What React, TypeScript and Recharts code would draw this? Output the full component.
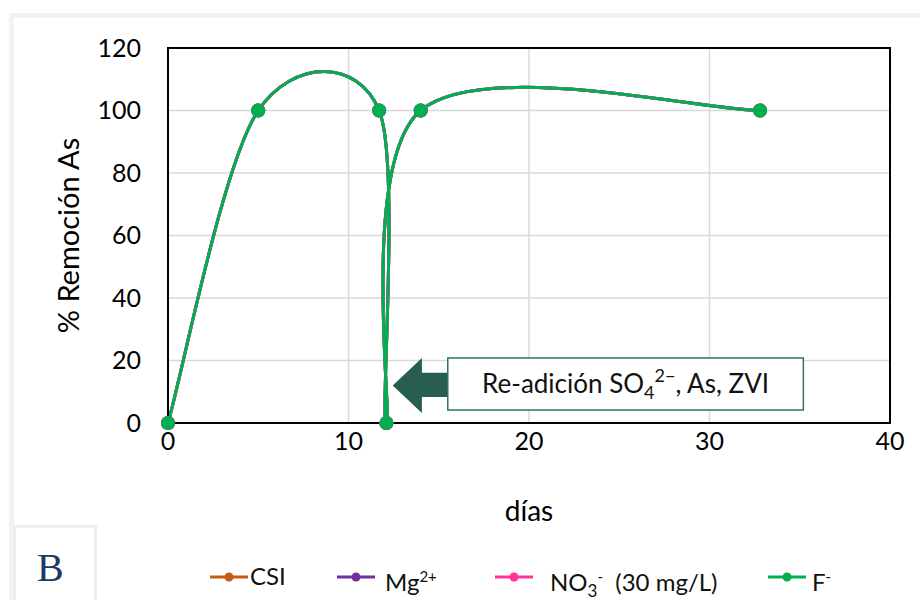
import React from 'react'
import { LineChart, Line, XAxis, YAxis, CartesianGrid, ReferenceArea } from 'recharts'

// días de muestreo y % de remoción de As (las cuatro series se superponen)
const days = [0, 5, 11.7, 12.1, 14, 32.8]
const csi = [0, 100, 100, 0, 100, 100]
const mg = [0, 100, 100, 0, 100, 100]
const no3 = [0, 100, 100, 0, 100, 100]
const fluor = [0, 100, 100, 0, 100, 100]

const xTicks = [0, 10, 20, 30, 40]
const yTicks = [0, 20, 40, 60, 80, 100, 120]

const data = days.map((d, i) => ({ day: d, csi: csi[i], mg: mg[i], no3: no3[i], f: fluor[i] }))

const FONT = 'Lato, "Open Sans", sans-serif'
const GREEN = '#00B050'

// suavizado tipo Excel (bezier con puntos de control a 1/6)
const excelCurve = (context: any) => {
	let pts: number[][] = []
	return {
		areaStart() {},
		areaEnd() {},
		lineStart() { pts = [] },
		point(x: number, y: number) { pts.push([+x, +y]) },
		lineEnd() {
			if (!pts.length) return
			context.moveTo(pts[0][0], pts[0][1])
			for (let i = 0; i < pts.length - 1; i++) {
				const p0 = pts[i - 1] || pts[i]
				const p1 = pts[i]
				const p2 = pts[i + 1]
				const p3 = pts[i + 2] || p2
				context.bezierCurveTo(
					p1[0] + (p2[0] - p0[0]) / 6, p1[1] + (p2[1] - p0[1]) / 6,
					p2[0] - (p3[0] - p1[0]) / 6, p2[1] - (p3[1] - p1[1]) / 6,
					p2[0], p2[1]
				)
			}
		},
	}
}

const YLabel = ({ viewBox }: any) => {
	const cx = viewBox.x + 67
	const cy = viewBox.y + viewBox.height / 2
	return (
		<text x={cx} y={cy} transform={`rotate(-90 ${cx} ${cy})`} textAnchor="middle" dominantBaseline="central"
			fontSize={29} fontFamily={FONT} fill="#000">% Remoción As</text>
	)
}

const Arrow = ({ x, y, width, height }: any) => {
	const hx = x + width * 0.53
	const pts = [
		[x, y + height / 2], [hx, y], [hx, y + height * 0.27], [x + width, y + height * 0.27],
		[x + width, y + height * 0.71], [hx, y + height * 0.71], [hx, y + height],
	]
	return <polygon points={pts.map(p => p.join(',')).join(' ')} fill="#275E4F" />
}

const BoxLabel = ({ viewBox }: any) => {
	const cx = viewBox.x + viewBox.width / 2
	const cy = viewBox.y + viewBox.height / 2 + 9
	return (
		<text x={cx} y={cy} textAnchor="middle" fontSize={26} fontFamily={FONT} fill="#111">
			<tspan>Re-adición SO</tspan>
			<tspan dy={6} fontSize={18}>4</tspan>
			<tspan dy={-17} fontSize={18}>2−</tspan>
			<tspan dy={11}>, As, ZVI</tspan>
		</text>
	)
}

const sup = { fontSize: 15, verticalAlign: 9 }
const sub = { fontSize: 17, verticalAlign: -6 }

const legendItems = [
	{ color: '#C55A11', label: <>CSI</>, mark: 210, text: 250 },
	{ color: '#7030A0', label: <>Mg<span style={sup}>2+</span></>, mark: 337, text: 385 },
	{ color: '#FF3399', label: <>NO<span style={sub}>3</span><span style={sup}>-</span>&nbsp;&nbsp;(30 mg/L)</>, mark: 495, text: 550 },
	{ color: GREEN, label: <>F<span style={sup}>-</span></>, mark: 768, text: 812 },
]

const App = () => {
	return (
		<div style={{ position: 'absolute', left: 0, top: 0, width: 920, height: 600, background: '#fff', overflow: 'hidden' }}>
			<div style={{ position: 'absolute', left: 9, top: 13, width: 960, height: 620, borderTop: '5px solid #f2f2f2', borderLeft: '5px solid #f2f2f2' }} />
			<div style={{ position: 'absolute', left: 13, top: 525, width: 78, height: 90, border: '3px solid #eeeeee', background: '#fff' }} />
			<div style={{ position: 'absolute', left: 37, top: 544, fontFamily: '"Liberation Serif", serif', fontSize: 40, color: '#1F3864' }}>B</div>

			<LineChart width={920} height={600} data={data} margin={{ top: 48, right: 30, left: 0, bottom: 77 }}
				style={{ position: 'absolute', left: 0, top: 0 }}>
				<CartesianGrid stroke="#d9d9d9" strokeWidth={1.5} />
				<XAxis type="number" dataKey="day" domain={[0, 40]} ticks={xTicks} height={100}
					tickLine={false} tickSize={0} tickMargin={9} axisLine={{ stroke: '#000', strokeWidth: 2 }}
					tick={{ fontSize: 25, fill: '#000', fontFamily: FONT }}
					label={{ value: 'días', position: 'insideBottom', offset: 2, fontSize: 28, fill: '#000', fontFamily: FONT }} />
				<YAxis type="number" domain={[0, 120]} ticks={yTicks} width={168}
					tickLine={false} tickSize={0} tickMargin={27} axisLine={{ stroke: '#000', strokeWidth: 2 }}
					tick={{ fontSize: 25, fill: '#000', fontFamily: FONT }}
					label={<YLabel />} />
				<ReferenceArea x1={0} x2={40} y1={0} y2={120} fill="none" stroke="#000" strokeWidth={2} />
				<ReferenceArea x1={12.45} x2={15.5} y1={3.2} y2={20.8} shape={<Arrow />} />
				<ReferenceArea x1={15.5} x2={35.2} y1={4.2} y2={20.8} fill="#fff" fillOpacity={1}
					stroke="#2E7565" strokeWidth={1.5} label={<BoxLabel />} />
				<Line dataKey="csi" type={excelCurve as any} stroke="#C55A11" strokeWidth={3}
					dot={{ r: 5.5, fill: '#C55A11', stroke: '#C55A11' }} isAnimationActive={false} />
				<Line dataKey="mg" type={excelCurve as any} stroke="#7030A0" strokeWidth={3}
					dot={{ r: 5.5, fill: '#7030A0', stroke: '#7030A0' }} isAnimationActive={false} />
				<Line dataKey="no3" type={excelCurve as any} stroke="#FF3399" strokeWidth={3}
					dot={{ r: 5.5, fill: '#FF3399', stroke: '#FF3399' }} isAnimationActive={false} />
				<Line dataKey="f" type={excelCurve as any} stroke={GREEN} strokeWidth={3}
					dot={{ r: 5.5, fill: GREEN, stroke: GREEN }} isAnimationActive={false} />
			</LineChart>

			{legendItems.map((it, i) => (
				<React.Fragment key={i}>
					<svg width={38} height={12} style={{ position: 'absolute', left: it.mark, top: 571 }}>
						<line x1={0} y1={6} x2={38} y2={6} stroke={it.color} strokeWidth={3} />
						<circle cx={19} cy={6} r={4.5} fill={it.color} />
					</svg>
					<div style={{ position: 'absolute', left: it.text, top: 561, fontFamily: FONT, fontSize: 24, color: '#111', whiteSpace: 'nowrap', lineHeight: '30px' }}>
						{it.label}
					</div>
				</React.Fragment>
			))}
		</div>
	)
}

export default App
